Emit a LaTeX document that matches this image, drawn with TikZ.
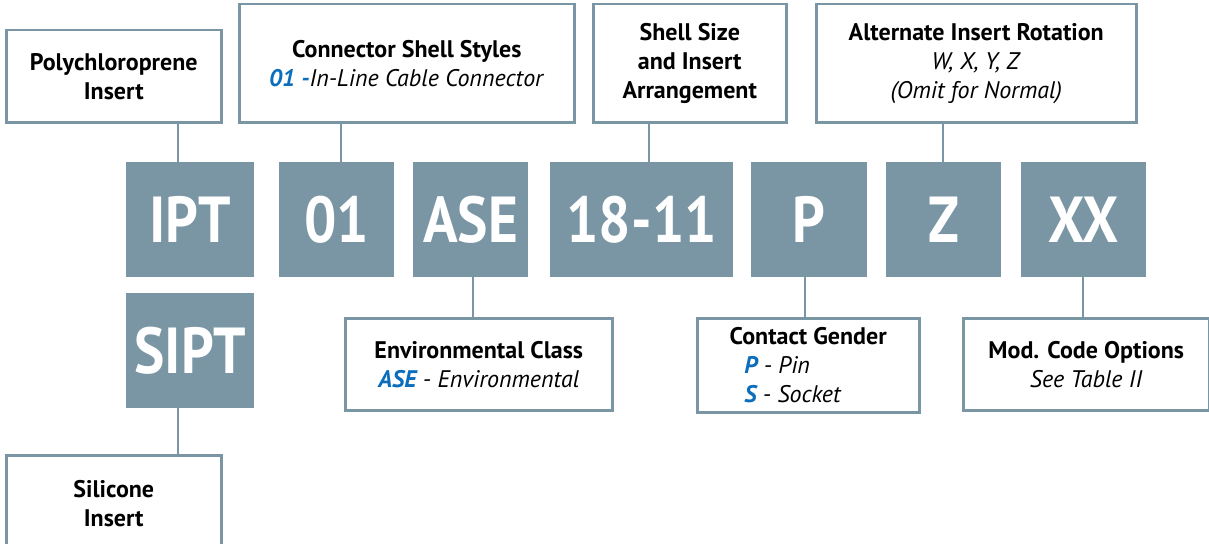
\documentclass[tikz,border=0pt]{standalone}
\usepackage{fontspec}
\setmainfont{PT Sans}
\definecolor{steel}{HTML}{7A96A4}
\definecolor{cblue}{HTML}{0A6EBD}
\newcommand{\cond}[1]{\scalebox{0.88}[1]{#1}}
\begin{document}
\begin{tikzpicture}[x=1pt,y=-1pt,
  code/.style={fill=steel, text=white, font=\bfseries\fontsize{65}{65}\selectfont, inner sep=0pt, anchor=north west, minimum height=115pt},
  lbl/.style={draw=steel, line width=2.5pt, fill=white, align=center, inner sep=0pt, anchor=north west, font=\fontsize{24}{29}\selectfont},
  link/.style={draw=steel, line width=2.5pt}]
\useasboundingbox (0,0) rectangle (1209,543);
% code boxes
\node[code, minimum width=128pt] (ipt) at (126,162) {\cond{IPT}};
\node[code, minimum width=115pt] (c01) at (279,162) {\cond{01}};
\node[code, minimum width=115pt] (ase) at (413,162) {\cond{ASE}};
\node[code, minimum width=183pt] (c1811) at (550,162) {\cond{18-11}};
\node[code, minimum width=116pt] (p) at (751,162) {\cond{P}};
\node[code, minimum width=115pt] (z) at (886,162) {\cond{Z}};
\node[code, minimum width=125pt] (xx) at (1021,162) {\cond{XX}};
\node[code, minimum width=128pt] (sipt) at (126,293) {\cond{SIPT}};
% label boxes
\node[lbl, minimum width=215pt, minimum height=92pt] (poly) at (5,29) {\textbf{Polychloroprene}\\\textbf{Insert}};
\node[lbl, minimum width=335pt, minimum height=118pt] (conn) at (238,3) {\textbf{Connector Shell Styles}\\{\color{cblue}\bfseries\itshape 01 -}\textit{In-Line Cable Connector}};
\node[lbl, minimum width=193pt, minimum height=118pt] (shell) at (592,3) {\textbf{Shell Size}\\\textbf{and Insert}\\\textbf{Arrangement}};
\node[lbl, minimum width=320pt, minimum height=118pt] (alt) at (815,3) {\textbf{Alternate Insert Rotation}\\\textit{W, X, Y, Z}\\\textit{(Omit for Normal)}};
\node[lbl, minimum width=267pt, minimum height=92pt] (env) at (344,317) {\textbf{Environmental Class}\\{\color{cblue}\bfseries\itshape ASE}\textit{ - Environmental}};
\node[lbl, minimum width=222pt, minimum height=94pt] (gender) at (696,317) {\textbf{Contact Gender}\\\makebox[128pt][l]{{\color{cblue}\bfseries\itshape P}\textit{ - Pin}}\\\makebox[128pt][l]{{\color{cblue}\bfseries\itshape S}\textit{ - Socket}}};
\node[lbl, minimum width=246pt, minimum height=92pt] (mod) at (962,317) {\textbf{Mod. Code Options}\\\textit{See Table II}};
\node[lbl, minimum width=215pt, minimum height=96pt] (sil) at (5,454) {\textbf{Silicone}\\\textbf{Insert}};
% connectors
\draw[link] ([xshift=52pt]ipt.north west) -- ([xshift=52pt]ipt.north west |- poly.south);
\draw[link] ([xshift=62pt]c01.north west) -- ([xshift=62pt]c01.north west |- conn.south);
\draw[link] ([xshift=99pt]c1811.north west) -- ([xshift=99pt]c1811.north west |- shell.south);
\draw[link] ([xshift=57pt]z.north west) -- ([xshift=57pt]z.north west |- alt.south);
\draw[link] ([xshift=52pt]sipt.south west) -- ([xshift=52pt]sipt.south west |- sil.north);
\draw[link] ([xshift=60pt]ase.south west) -- ([xshift=60pt]ase.south west |- env.north);
\draw[link] ([xshift=54pt]p.south west) -- ([xshift=54pt]p.south west |- gender.north);
\draw[link] ([xshift=62pt]xx.south west) -- ([xshift=62pt]xx.south west |- mod.north);
\end{tikzpicture}
\end{document}
